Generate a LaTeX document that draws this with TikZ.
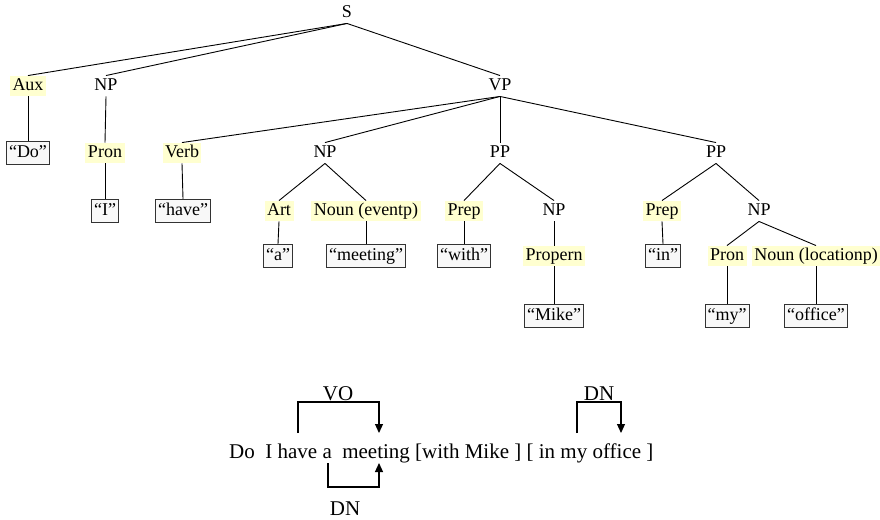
\documentclass[tikz,border=0pt]{standalone}
\usepackage{fontspec}
\setmainfont{Liberation Serif}
\usetikzlibrary{arrows.meta}
\definecolor{hl}{RGB}{255,255,208}
\definecolor{leaf}{RGB}{248,248,248}
\begin{document}
\begin{tikzpicture}[x=1pt,y=-1pt,
  lab/.style={inner xsep=2.5pt, inner ysep=2pt, font=\fontsize{18}{20}\selectfont, text height=12.5pt, text depth=4pt},
  hlab/.style={lab, fill=hl},
  leafbox/.style={lab, draw=black!80, fill=leaf, line width=0.9pt, inner ysep=3.5pt},
  edge/.style={line width=0.9pt, draw=black},
  arc/.style={line width=1.2pt, draw=black, -{Triangle[length=9pt,width=8pt]}},
  sent/.style={inner sep=0pt, font=\fontsize{21}{24}\selectfont}]
\useasboundingbox (0,0) rectangle (880,519);

% level 0
\node[lab] (S) at (347,13) {S};
% level 1
\node[hlab] (aux) at (28,86) {Aux};
\node[lab] (np1) at (106,86) {NP};
\node[lab] (vp) at (500,86) {VP};
% level 2
\node[leafbox] (do) at (28,153) {“Do”};
\node[hlab] (pron1) at (105,153) {Pron};
\node[hlab] (verb) at (182,153) {Verb};
\node[lab] (np2) at (325,153) {NP};
\node[lab] (pp1) at (500,153) {PP};
\node[lab] (pp2) at (716,153) {PP};
% level 3
\node[leafbox] (i) at (105,211) {“I”};
\node[leafbox] (have) at (183,211) {“have”};
\node[hlab] (art) at (279,211) {Art};
\node[hlab] (noun1) at (366,211) {Noun (eventp)};
\node[hlab] (prep1) at (464,211) {Prep};
\node[lab] (np3) at (554,211) {NP};
\node[hlab] (prep2) at (662,211) {Prep};
\node[lab] (np4) at (759,211) {NP};
% level 4
\node[leafbox] (a) at (278,256) {“a”};
\node[leafbox] (meeting) at (366,256) {“meeting”};
\node[leafbox] (with) at (464,256) {“with”};
\node[hlab] (propern) at (554,256) {Propern};
\node[leafbox] (in) at (663,256) {“in”};
\node[hlab] (pron2) at (727,256) {Pron};
\node[hlab] (noun2) at (816,256) {Noun (locationp)};
% level 5
\node[leafbox] (mike) at (554,316) {“Mike”};
\node[leafbox] (my) at (727,316) {“my”};
\node[leafbox] (office) at (816,316) {“office”};

% tree edges
\foreach \p/\c in {S/aux, S/np1, S/vp, aux/do, np1/pron1, vp/verb, vp/np2, vp/pp1, vp/pp2,
  pron1/i, verb/have, np2/art, np2/noun1, pp1/prep1, pp1/np3, pp2/prep2, pp2/np4,
  art/a, noun1/meeting, prep1/with, np3/propern, prep2/in, np4/pron2, np4/noun2,
  propern/mike, pron2/my, noun2/office}
  \draw[edge] (\p.south) -- (\c.north);

% sentence
\node[sent, anchor=base west] (sentence) at (229,458) {Do\ \ I have a\ \ meeting [with Mike ] [ in my office ]};

% relation arcs
\coordinate (vofrom) at (298,433);
\coordinate (voto) at (379,433);
\coordinate (dnfrom) at (328,463);
\coordinate (dnto) at (379,463);
\coordinate (dn2from) at (577,433);
\coordinate (dn2to) at (621,433);
\draw[arc] (vofrom) -- ++(0,-31) -| (voto);
\draw[arc] (dnfrom) -- ++(0,24) -| (dnto);
\draw[arc] (dn2from) -- ++(0,-31) -| (dn2to);
\node[sent, anchor=base] (vo) at (338,400) {VO};
\node[sent, anchor=base] (dnlow) at (345,515) {DN};
\node[sent, anchor=base] (dnup) at (599,400) {DN};
\end{tikzpicture}
\end{document}
